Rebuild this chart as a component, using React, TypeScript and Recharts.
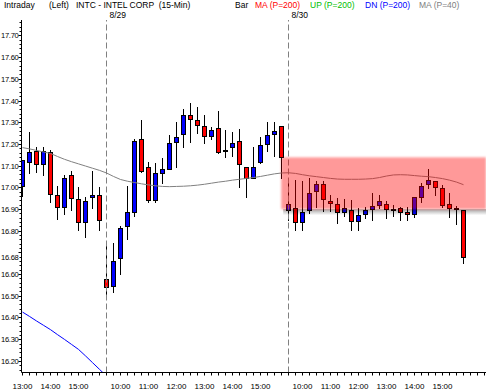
import React from 'react';
import { ComposedChart, Bar, Line, XAxis, YAxis, ReferenceLine, ReferenceArea } from 'recharts';

// INTC 15-min bars, 8/28 afternoon through 8/30
const OPEN = [
  17.007, 17.118, 17.169, 17.107, 17.161, 16.963, 16.908, 17.055, 16.945, 16.839, 16.957, 16.963,
  16.576, 16.545, 16.673, 16.823, 16.888, 17.221, 17.092, 16.94, 17.067, 17.086, 17.207, 17.244,
  17.333, 17.31, 17.282, 17.236, 17.272, 17.172, 17.187, 17.213, 17.094, 17.044, 17.118, 17.199,
  17.244, 17.282,
  16.895, 16.903, 16.841, 16.895, 16.984, 17.015, 16.938, 16.923, 16.888, 16.895, 16.846, 16.877,
  16.899, 16.917, 16.922, 16.901, 16.903, 16.886, 16.876, 16.957, 17.015, 17.031, 16.995, 16.923,
  16.904, 16.895,
];
const HIGH = [
  17.126, 17.256, 17.187, 17.187, 17.172, 17.006, 17.057, 17.077, 17.003, 16.957, 17.075, 17.003,
  16.745, 16.745, 16.822, 17.006, 17.221, 17.31, 17.118, 17.111, 17.134, 17.241, 17.3, 17.359,
  17.387, 17.371, 17.333, 17.276, 17.352, 17.264, 17.253, 17.267, 17.094, 17.187, 17.23, 17.3,
  17.3, 17.282,
  17.018, 17.034, 17.03, 17.041, 17.03, 17.03, 16.964, 16.949, 16.946, 16.941, 16.903, 16.911,
  16.972, 16.964, 16.938, 16.918, 16.911, 16.911, 16.954, 17.018, 17.083, 17.031, 17.011, 16.975,
  16.914, 16.895,
];
const LOW = [
  16.96, 17.065, 17.072, 17.057, 16.934, 16.853, 16.877, 16.895, 16.803, 16.772, 16.903, 16.803,
  16.508, 16.516, 16.6, 16.76, 16.868, 17.072, 16.934, 16.934, 17.021, 17.086, 17.092, 17.184,
  17.21, 17.252, 17.203, 17.221, 17.157, 17.141, 17.144, 17.003, 16.954, 17.044, 17.11, 17.169,
  17.146, 17.041,
  16.849, 16.803, 16.803, 16.883, 16.911, 16.892, 16.892, 16.834, 16.868, 16.803, 16.803, 16.857,
  16.849, 16.903, 16.857, 16.868, 16.849, 16.849, 16.862, 16.934, 16.995, 16.964, 16.911, 16.862,
  16.83, 16.65,
];
const CLOSE = [
  17.126, 17.164, 17.107, 17.169, 16.969, 16.908, 17.041, 16.951, 16.839, 16.935, 16.963, 16.848,
  16.542, 16.659, 16.811, 16.885, 17.213, 17.077, 16.94, 17.065, 17.083, 17.203, 17.23, 17.333,
  17.313, 17.287, 17.236, 17.264, 17.164, 17.166, 17.206, 17.107, 17.044, 17.094, 17.195, 17.241,
  17.261, 17.138,
  16.923, 16.841, 16.886, 16.972, 17.015, 16.946, 16.926, 16.888, 16.903, 16.846, 16.872, 16.895,
  16.914, 16.937, 16.899, 16.897, 16.888, 16.876, 16.954, 17.006, 17.034, 17.0, 16.918, 16.906,
  16.898, 16.68,
];
const MA40 = [
  17.183, 17.177, 17.17, 17.163, 17.156, 17.142, 17.129, 17.118, 17.108, 17.098, 17.088, 17.078,
  17.066, 17.05, 17.036, 17.028, 17.022, 17.016, 17.011, 17.007, 17.004, 17.003, 17.004, 17.005,
  17.007, 17.01, 17.014, 17.019, 17.024, 17.028, 17.033, 17.037, 17.041, 17.045, 17.05, 17.056,
  17.062, 17.066,
  17.067, 17.064, 17.058, 17.053, 17.049, 17.045, 17.041, 17.038, 17.037, 17.037, 17.037, 17.038,
  17.04, 17.045, 17.052, 17.057, 17.058, 17.057, 17.054, 17.051, 17.049, 17.045, 17.04, 17.033,
  17.024, 17.012,
];
const DN200 = [16.425, 16.405, 16.384, 16.364, 16.344, 16.321, 16.299, 16.276, 16.253, 16.223, 16.192, 16.161, 16.13];

const TIME_TICKS = [0, 4, 8, 14, 18, 22, 26, 30, 34, 40, 44, 48, 52, 56, 60];
const TIME_LABELS = ['13:00', '14:00', '15:00', '10:00', '11:00', '12:00', '13:00', '14:00', '15:00', '10:00', '11:00', '12:00', '13:00', '14:00', '15:00'];
const PRICE_LABELS = [16.2, 16.3, 16.4, 16.5, 16.6, 16.68, 16.8, 16.9, 17.0, 17.1, 17.2, 17.3, 17.4, 17.5, 17.6, 17.7];
const DAY_STARTS = [12, 38];
const DAY_LABELS = ['8/29', '8/30'];
const ZONE = { x1: 36.96, y1: 16.899, y2: 17.138 };

const FONT = "'Liberation Sans', Arial, sans-serif";

const data = OPEN.map((o, i) => ({
  i,
  open: o,
  high: HIGH[i],
  low: LOW[i],
  close: CLOSE[i],
  ma: MA40[i],
  dn: i < DN200.length ? DN200[i] : null,
}));

const priceTicks = Array.from({ length: 81 }, (_, k) => +(16.16 + k * 0.02).toFixed(2));
const timeTicks = Array.from({ length: 67 }, (_, k) => k);

const Candle = (p: any) => {
  const { x, y, width, height, payload } = p;
  const { open, close, high, low } = payload;
  const top = Math.min(y, y + height);
  const bot = Math.max(y, y + height);
  const k = high > low ? (bot - top) / (high - low) : 0;
  const py = (v: number) => top + (high - v) * k;
  const cx = Math.floor(x + width / 2) + 0.5;
  const up = close >= open;
  const bt = Math.round(py(Math.max(open, close))) + 0.5;
  const bb = Math.round(py(Math.min(open, close))) + 0.5;
  return (
    <g>
      <line x1={cx} x2={cx} y1={Math.round(top)} y2={Math.round(bot) + 1} stroke="#000" />
      <rect x={cx - 2} y={bt} width={4} height={Math.max(bb - bt, 1)} fill={up ? '#0000ff' : '#ff0000'} stroke="#000" />
    </g>
  );
};

const PriceTick = (p: any) => {
  const { x, y, payload } = p;
  const v = payload.value;
  const major = Math.abs(v * 10 - Math.round(v * 10)) < 0.001;
  const idx = PRICE_LABELS.findIndex((q) => Math.abs(q - v) < 0.001);
  const yy = Math.round(y) + 0.5;
  return (
    <g>
      <line x1={x - (major ? 3 : 2)} x2={x} y1={yy} y2={yy} stroke="#000" />
      {idx >= 0 && (
        <text x={x - 3} y={y + 3} textAnchor="end" fontSize={7.6} letterSpacing={-0.3} fontFamily={FONT} fill="#000">
          {v.toFixed(2)}
        </text>
      )}
    </g>
  );
};

const TimeTick = (p: any) => {
  const { x, y, payload } = p;
  const idx = TIME_TICKS.indexOf(payload.value);
  const xx = Math.floor(x) + 0.5;
  return (
    <g>
      <line x1={xx} x2={xx} y1={y} y2={y + 3} stroke="#000" />
      {idx >= 0 && (
        <text x={x} y={y + 16} textAnchor="middle" fontSize={8} fontFamily={FONT} fill="#000">
          {TIME_LABELS[idx]}
        </text>
      )}
    </g>
  );
};

const DayLabel = (p: any) => {
  const { viewBox, text } = p;
  return (
    <text x={viewBox.x + 3} y={viewBox.y - 2.5} fontSize={8.5} fontFamily={FONT} fill="#000">
      {text}
    </text>
  );
};

const ZoneShape = (p: any) => {
  const { x, y, width, height } = p;
  return (
    <g>
      <defs>
        <linearGradient id="zoneShadow" x1="0" y1="0" x2="0" y2="1">
          <stop offset="0" stopColor="#000" stopOpacity={0.35} />
          <stop offset="1" stopColor="#000" stopOpacity={0} />
        </linearGradient>
        <filter id="zoneSoft">
          <feGaussianBlur stdDeviation="1" />
        </filter>
      </defs>
      <rect x={x + 2} y={y + height} width={width} height={6} fill="url(#zoneShadow)" />
      <rect x={x} y={y} width={width} height={height} fill="#ff0000" fillOpacity={0.4} filter="url(#zoneSoft)" />
    </g>
  );
};

const header = [
  { t: 'Intraday', x: 4, c: '#000' },
  { t: '(Left)', x: 49, c: '#000' },
  { t: 'INTC - INTEL CORP  (15-Min)', x: 76, c: '#000' },
  { t: 'Bar', x: 235, c: '#000' },
  { t: 'MA (P=200)', x: 255, c: '#ff0000' },
  { t: 'UP (P=200)', x: 310, c: '#00c000' },
  { t: 'DN (P=200)', x: 365, c: '#0000ff' },
  { t: 'MA (P=40)', x: 419, c: '#808080' },
];

export default function App() {
  return (
    <div style={{ position: 'fixed', left: 0, top: 0, width: 486, height: 392, background: '#fff' }}>
      <ComposedChart width={486} height={392} data={data} margin={{ top: 20, right: 0, bottom: 0, left: 0 }}>
        <XAxis
          dataKey="i"
          type="number"
          domain={[-1 / 7, 463.5 / 7]}
          allowDataOverflow
          ticks={timeTicks}
          interval={0}
          tickSize={0}
          tickMargin={0}
          tick={<TimeTick />}
          tickLine={false}
          height={19.5}
          axisLine={{ stroke: '#000' }}
        />
        <YAxis
          type="number"
          domain={[16.1465, 17.771]}
          allowDataOverflow
          ticks={priceTicks}
          interval={0}
          tickSize={0}
          tickMargin={0}
          tick={<PriceTick />}
          tickLine={false}
          width={21.5}
          axisLine={{ stroke: '#000' }}
        />
        {DAY_STARTS.map((d, k) => (
          <ReferenceLine
            key={d}
            x={d}
            stroke="#808080"
            strokeDasharray="6 3"
            label={<DayLabel text={DAY_LABELS[k]} />}
          />
        ))}
        <Bar dataKey={(d: any) => [d.low, d.high]} barSize={5} shape={<Candle />} isAnimationActive={false} />
        <Line dataKey="ma" stroke="#808080" strokeWidth={1} dot={false} isAnimationActive={false} />
        <Line dataKey="dn" stroke="#0000ff" strokeWidth={1} dot={false} isAnimationActive={false} />
        <ReferenceArea
          x1={ZONE.x1}
          x2={463.5 / 7}
          y1={ZONE.y1}
          y2={ZONE.y2}
          shape={<ZoneShape />}
          zIndex={1000}
          ifOverflow="visible"
        />
      </ComposedChart>
      <svg width={486} height={20} style={{ position: 'absolute', left: 0, top: 0 }}>
        {header.map((h) => (
          <text key={h.t} x={h.x} y={8} fontSize={8.5} fontFamily={FONT} fill={h.c} style={{ whiteSpace: 'pre' }}>
            {h.t}
          </text>
        ))}
      </svg>
    </div>
  );
}
